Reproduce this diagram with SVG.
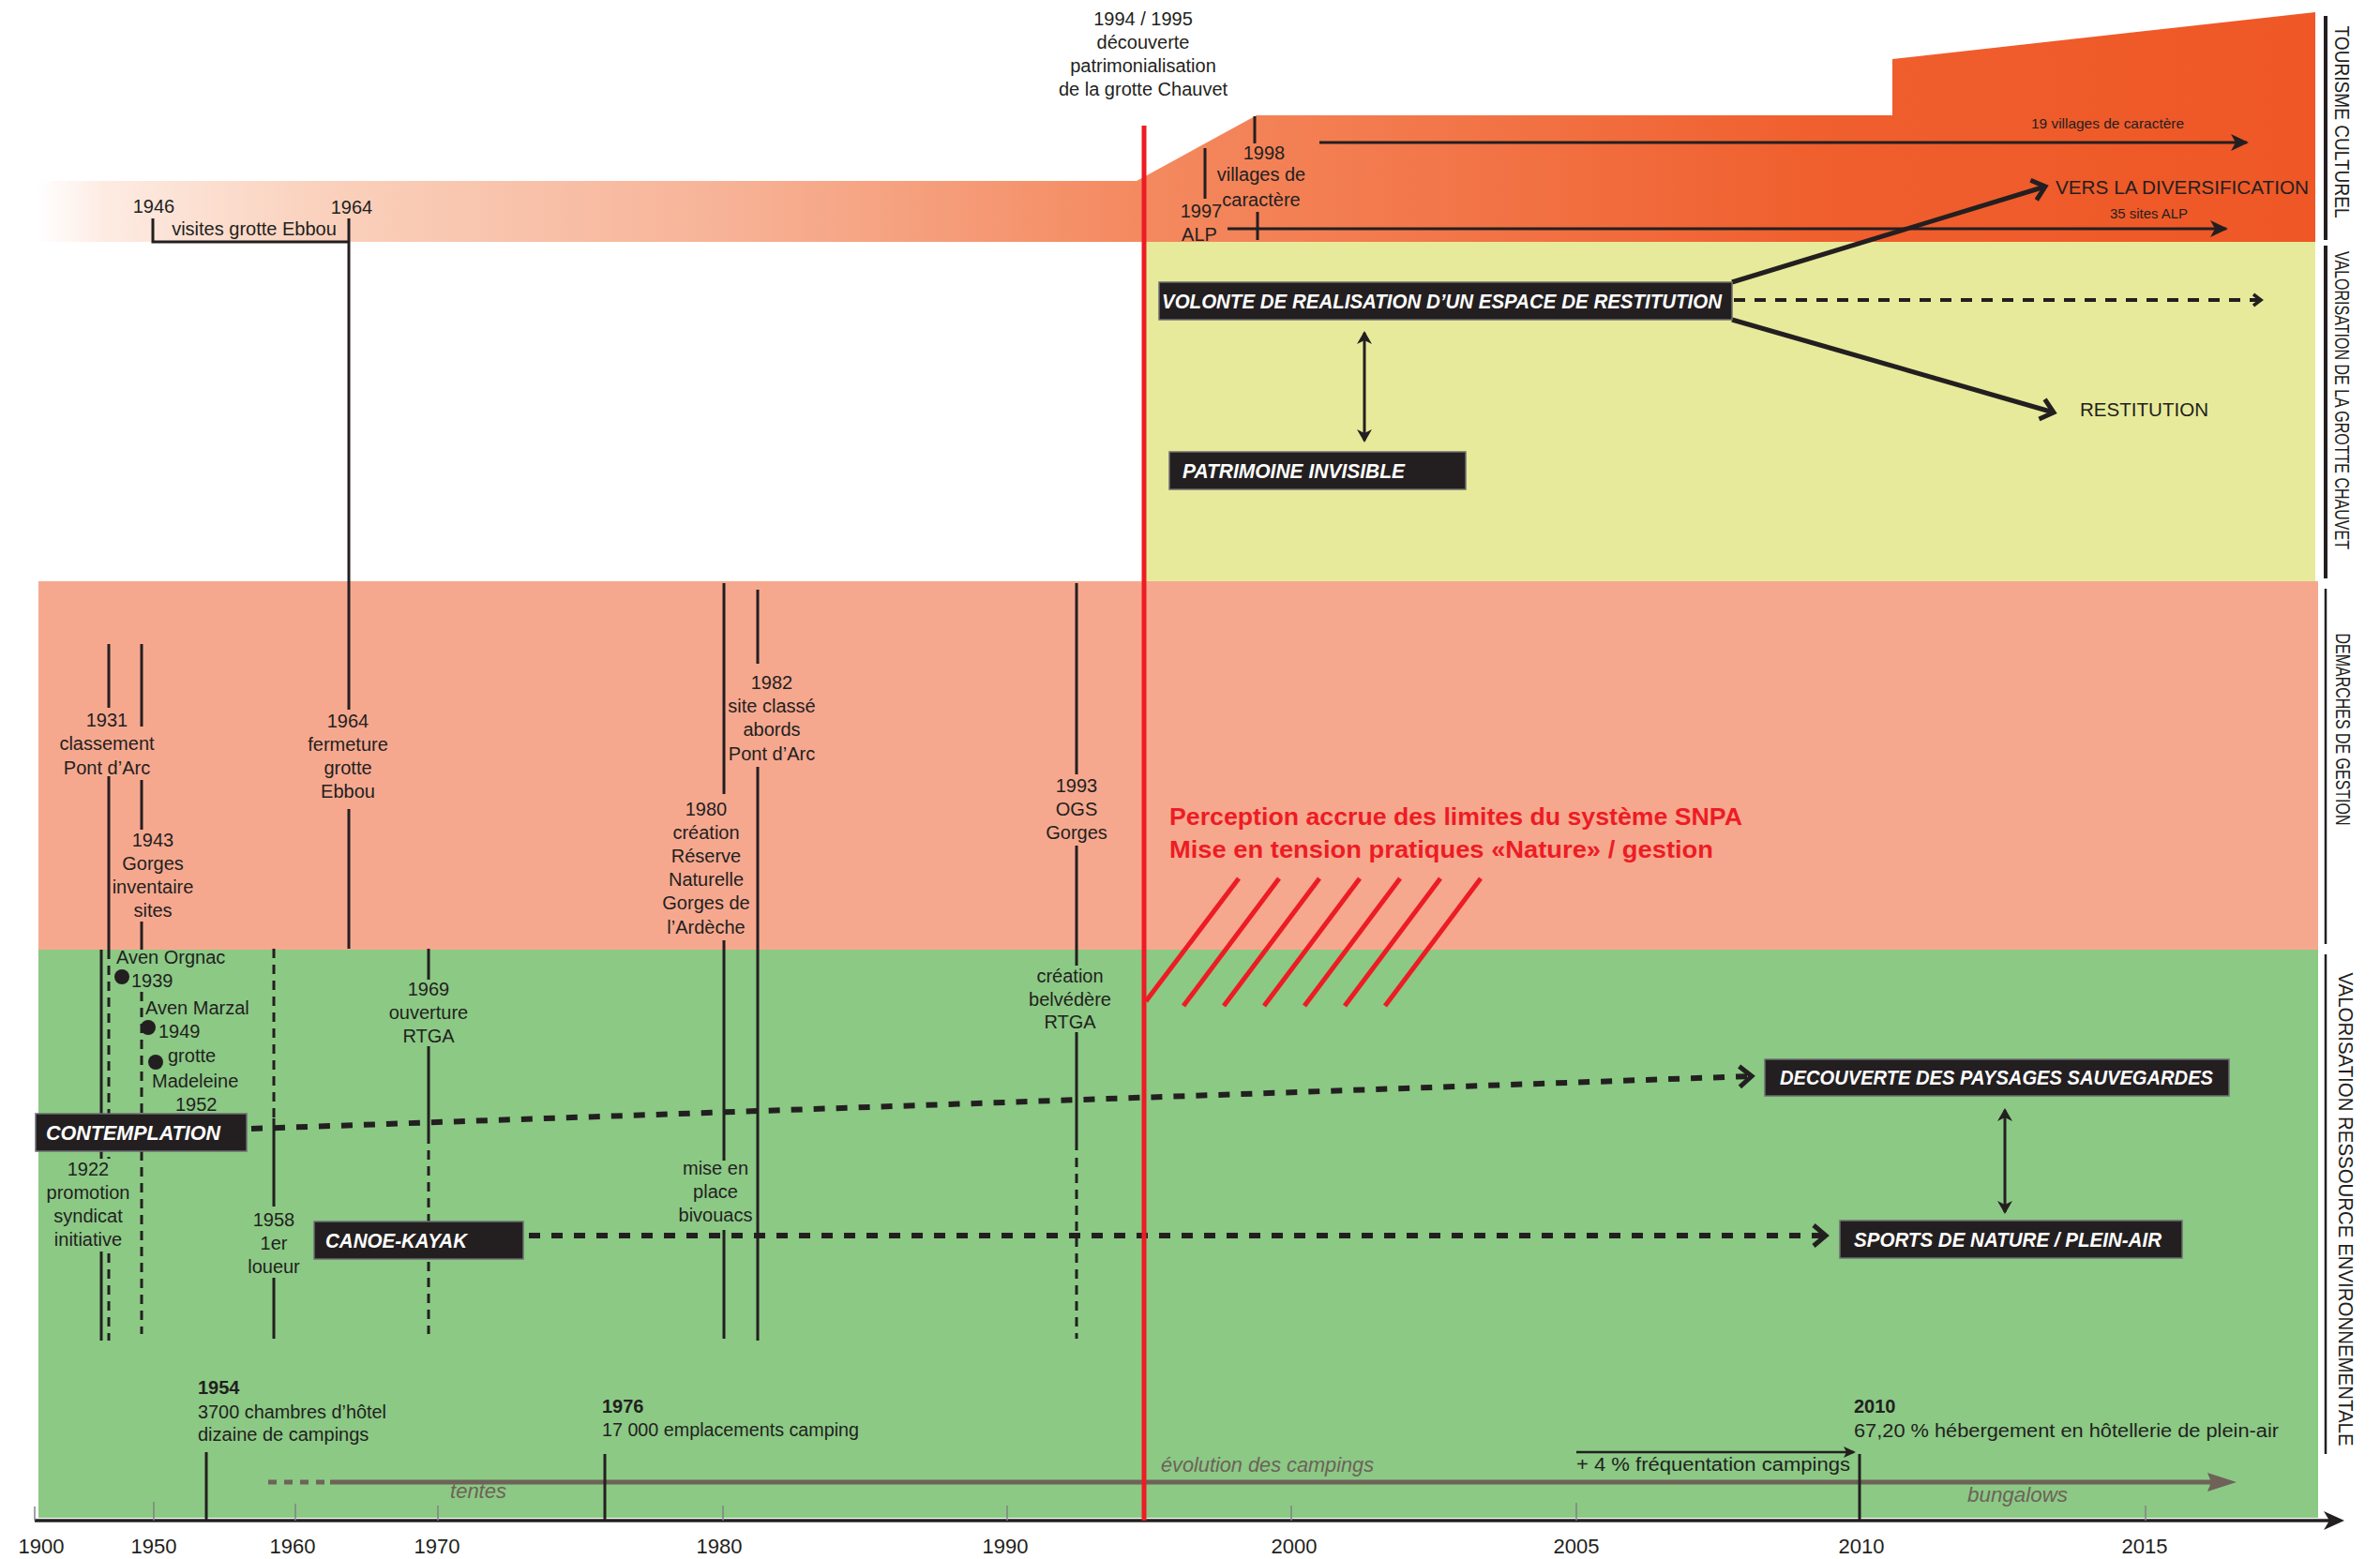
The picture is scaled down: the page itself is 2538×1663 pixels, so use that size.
<svg xmlns="http://www.w3.org/2000/svg" width="2538" height="1663" viewBox="0 0 2538 1663">
<defs>
<linearGradient id="gOrange" gradientUnits="userSpaceOnUse" x1="40" y1="0" x2="2470" y2="0">
<stop offset="0" stop-color="#FFFFFF"/>
<stop offset="0.03" stop-color="#FDEBE2"/>
<stop offset="0.12" stop-color="#FAD2BE"/>
<stop offset="0.3" stop-color="#F7B397"/>
<stop offset="0.48" stop-color="#F48A60"/>
<stop offset="0.78" stop-color="#F05F2E"/>
<stop offset="1" stop-color="#EF5726"/>
</linearGradient>
<marker id="chev" markerUnits="userSpaceOnUse" viewBox="-24 -16 30 32" markerWidth="30" markerHeight="32" refX="0" refY="0" orient="auto" overflow="visible">
<path d="M-13,-11 L0,0 L-13,11" fill="none" stroke="#231F20" stroke-width="5"/>
</marker>
<marker id="chevS" markerUnits="userSpaceOnUse" viewBox="-16 -10 20 20" markerWidth="20" markerHeight="20" refX="0" refY="0" orient="auto" overflow="visible">
<path d="M-8,-6 L0,0 L-8,6" fill="none" stroke="#231F20" stroke-width="3.5"/>
</marker>
<marker id="arr" markerUnits="userSpaceOnUse" viewBox="-20 -10 24 20" markerWidth="24" markerHeight="20" refX="0" refY="0" orient="auto" overflow="visible">
<path d="M2,0 L-17,-9 L-12,0 L-17,9 Z" fill="#231F20"/>
</marker>
<marker id="arrS" markerUnits="userSpaceOnUse" viewBox="-14 -8 16 16" markerWidth="16" markerHeight="16" refX="0" refY="0" orient="auto" overflow="visible">
<path d="M2,0 L-11,-6 L-8,0 L-11,6 Z" fill="#231F20"/>
</marker>
<marker id="dbl" markerUnits="userSpaceOnUse" viewBox="-16 -10 20 20" markerWidth="20" markerHeight="20" refX="0" refY="0" orient="auto-start-reverse" overflow="visible">
<path d="M2,0 L-12,-8 L-8,0 L-12,8 Z" fill="#231F20"/>
</marker>
</defs>
<style>
text{font-family:"Liberation Sans",Arial,sans-serif;fill:#231F20;font-size:20px}
.c{text-anchor:middle}
.b{font-weight:bold}
.bx{fill:#231F20;stroke:#6D6E71;stroke-width:1.5}
.bt{fill:#FFFFFF;font-size:22px;font-weight:bold;font-style:italic}
.ln{stroke:#231F20;stroke-width:3;fill:none}
.dl{stroke:#231F20;stroke-width:3;stroke-dasharray:10 7;fill:none}
.tk{stroke:#808285;stroke-width:1.5}
.yr{font-size:22px;text-anchor:middle}
.gi{fill:#6E6259;font-style:italic;font-size:22px}
.rt{fill:#ED1C24;font-weight:bold;font-size:25px}
.side{font-size:22px;text-anchor:middle}
.sm{font-size:14.5px}
.red{stroke:#ED1C24;stroke-width:5;fill:none}
.thick{stroke:#231F20;stroke-width:6;stroke-dasharray:12 12;fill:none}
</style>
<rect x="0" y="0" width="2538" height="1663" fill="#FFFFFF"/>

<g id="bands">
<path d="M40,193 H1212 L1340,123 H2018 V63 L2469,13 V258 H40 Z" fill="url(#gOrange)"/>
<rect x="1222" y="258" width="1247" height="362" fill="#E7EA9A"/>
<rect x="41" y="620" width="2431" height="393" fill="#F6A88F"/>
<rect x="41" y="1013" width="2431" height="606" fill="#8BC985"/>
</g>

<g id="side-labels">
<line x1="2480" y1="17" x2="2480" y2="256" stroke="#231F20" stroke-width="4"/>
<line x1="2480" y1="262" x2="2480" y2="617" stroke="#231F20" stroke-width="4"/>
<line x1="2480" y1="628" x2="2480" y2="1007" stroke="#231F20" stroke-width="2.5"/>
<line x1="2480" y1="1018" x2="2480" y2="1551" stroke="#231F20" stroke-width="2.5"/>
<text class="side" transform="translate(2490,130) rotate(90)" textLength="205" lengthAdjust="spacingAndGlyphs">TOURISME CULTUREL</text>
<text class="side" transform="translate(2490,427) rotate(90)" textLength="318" lengthAdjust="spacingAndGlyphs">VALORISATION DE LA GROTTE CHAUVET</text>
<text class="side" transform="translate(2491,778) rotate(90)" textLength="205" lengthAdjust="spacingAndGlyphs">DEMARCHES DE GESTION</text>
<text class="side" transform="translate(2494,1290) rotate(90)" textLength="505" lengthAdjust="spacingAndGlyphs">VALORISATION RESSOURCE ENVIRONNEMENTALE</text>
</g>

<g id="axis">
<line x1="37" y1="1622" x2="2486" y2="1622" stroke="#231F20" stroke-width="3.5"/>
<path d="M2500,1622 L2478,1612 L2484,1622 L2478,1632 Z" fill="#231F20"/>
<line class="tk" x1="37" y1="1607" x2="37" y2="1622"/>
<line class="tk" x1="164" y1="1602" x2="164" y2="1622"/>
<line class="tk" x1="315" y1="1604" x2="315" y2="1622"/>
<line class="tk" x1="467" y1="1606" x2="467" y2="1622"/>
<line class="tk" x1="771" y1="1606" x2="771" y2="1622"/>
<line class="tk" x1="1074" y1="1606" x2="1074" y2="1622"/>
<line class="tk" x1="1377" y1="1606" x2="1377" y2="1622"/>
<line class="tk" x1="1681" y1="1603" x2="1681" y2="1622"/>
<line class="tk" x1="2288" y1="1606" x2="2288" y2="1622"/>
<text class="yr" x="44" y="1657">1900</text>
<text class="yr" x="164" y="1657">1950</text>
<text class="yr" x="312" y="1657">1960</text>
<text class="yr" x="466" y="1657">1970</text>
<text class="yr" x="767" y="1657">1980</text>
<text class="yr" x="1072" y="1657">1990</text>
<text class="yr" x="1380" y="1657">2000</text>
<text class="yr" x="1681" y="1657">2005</text>
<text class="yr" x="1985" y="1657">2010</text>
<text class="yr" x="2287" y="1657">2015</text>
</g>

<g id="campings">
<line x1="286" y1="1581" x2="352" y2="1581" stroke="#6E6259" stroke-width="5" stroke-dasharray="9 8"/>
<line x1="352" y1="1581" x2="2358" y2="1581" stroke="#6E6259" stroke-width="5"/>
<path d="M2385,1581 L2354,1571 L2358,1581 L2354,1591 Z" fill="#6E6259"/>
<text class="gi" x="510" y="1598" text-anchor="middle">tentes</text>
<text class="gi" x="1238" y="1570" textLength="227" lengthAdjust="spacingAndGlyphs">évolution des campings</text>
<text class="gi" x="2098" y="1602" textLength="107" lengthAdjust="spacingAndGlyphs">bungalows</text>
<line class="ln" x1="220" y1="1549" x2="220" y2="1622"/>
<text class="b" x="211" y="1487">1954</text>
<text x="211" y="1513" textLength="201" lengthAdjust="spacingAndGlyphs">3700 chambres d’hôtel</text>
<text x="211" y="1537">dizaine de campings</text>
<line class="ln" x1="645" y1="1551" x2="645" y2="1622"/>
<text class="b" x="642" y="1507">1976</text>
<text x="642" y="1532" textLength="274" lengthAdjust="spacingAndGlyphs">17 000 emplacements camping</text>
<line class="ln" x1="1983" y1="1551" x2="1983" y2="1622"/>
<text class="b" x="1977" y="1507">2010</text>
<text x="1977" y="1533" textLength="453" lengthAdjust="spacingAndGlyphs">67,20 % hébergement en hôtellerie de plein-air</text>
<line x1="1681" y1="1549" x2="1977" y2="1549" stroke="#231F20" stroke-width="2.5" marker-end="url(#arrS)"/>
<text x="1681" y="1569" textLength="292" lengthAdjust="spacingAndGlyphs">+ 4 % fréquentation campings</text>
</g>

<g id="ev-ebbou">
<path class="ln" d="M163,233 V258 H372 M372,233 V757 M372,863 V1012"/>
<text class="c" x="164" y="227">1946</text>
<text class="c" x="375" y="228">1964</text>
<text class="c" x="271" y="251">visites grotte Ebbou</text>
<text class="c" x="371" y="776">1964</text>
<text class="c" x="371" y="801">fermeture</text>
<text class="c" x="371" y="826">grotte</text>
<text class="c" x="371" y="851">Ebbou</text>
</g>

<g id="ev-1931">
<path class="ln" d="M116,687 V755 M116,828 V1013"/>
<text class="c" x="114" y="775">1931</text>
<text class="c" x="114" y="800">classement</text>
<text class="c" x="114" y="826">Pont d’Arc</text>
</g>

<g id="ev-1943">
<path class="ln" d="M151,687 V775 M151,832 V885 M151,983 V1013"/>
<path class="dl" d="M151,1058 V1423"/>
<text class="c" x="163" y="903">1943</text>
<text class="c" x="163" y="928">Gorges</text>
<text class="c" x="163" y="953">inventaire</text>
<text class="c" x="163" y="978">sites</text>
</g>

<g id="ev-1922">
<path class="ln" d="M108,1013 V1236 M108,1335 V1430"/>
<path class="dl" d="M116,1013 V1236 M116,1337 V1430"/>
<text class="c" x="94" y="1254">1922</text>
<text class="c" x="94" y="1279">promotion</text>
<text class="c" x="94" y="1304">syndicat</text>
<text class="c" x="94" y="1329">initiative</text>
</g>

<g id="ev-avens">
<circle cx="130" cy="1042" r="8" fill="#231F20"/>
<circle cx="158" cy="1096" r="8" fill="#231F20"/>
<circle cx="166" cy="1133" r="8" fill="#231F20"/>
<text x="124" y="1028">Aven Orgnac</text>
<text x="140" y="1053">1939</text>
<text x="155" y="1082">Aven Marzal</text>
<text x="169" y="1107">1949</text>
<text x="179" y="1133">grotte</text>
<text x="162" y="1160">Madeleine</text>
<text x="187" y="1185">1952</text>
</g>

<g id="ev-1958">
<path class="dl" d="M292,1012 V1193"/>
<path class="ln" d="M292,1193 V1287 M292,1363 V1428"/>
<text class="c" x="292" y="1308">1958</text>
<text class="c" x="292" y="1333">1er</text>
<text class="c" x="292" y="1358">loueur</text>
</g>

<g id="ev-1969">
<path class="ln" d="M457,1012 V1045 M457,1116 V1220"/>
<path class="dl" d="M457,1227 V1423"/>
<text class="c" x="457" y="1062">1969</text>
<text class="c" x="457" y="1087">ouverture</text>
<text class="c" x="457" y="1112">RTGA</text>
</g>

<g id="ev-1980">
<path class="ln" d="M772,622 V847 M772,1003 V1238 M772,1312 V1428"/>
<text class="c" x="753" y="870">1980</text>
<text class="c" x="753" y="895">création</text>
<text class="c" x="753" y="920">Réserve</text>
<text class="c" x="753" y="945">Naturelle</text>
<text class="c" x="753" y="970">Gorges de</text>
<text class="c" x="753" y="996">l’Ardèche</text>
<text class="c" x="763" y="1253">mise en</text>
<text class="c" x="763" y="1278">place</text>
<text class="c" x="763" y="1303">bivouacs</text>
</g>

<g id="ev-1982">
<path class="ln" d="M808,629 V708 M808,818 V1430"/>
<text class="c" x="823" y="735">1982</text>
<text class="c" x="823" y="760">site classé</text>
<text class="c" x="823" y="785">abords</text>
<text class="c" x="823" y="811">Pont d’Arc</text>
</g>

<g id="ev-1993">
<path class="ln" d="M1148,622 V826 M1148,902 V1030 M1148,1101 V1227"/>
<path class="dl" d="M1148,1235 V1428"/>
<text class="c" x="1148" y="845">1993</text>
<text class="c" x="1148" y="870">OGS</text>
<text class="c" x="1148" y="895">Gorges</text>
<text class="c" x="1141" y="1048">création</text>
<text class="c" x="1141" y="1073">belvédère</text>
<text class="c" x="1141" y="1097">RTGA</text>
</g>

<g id="ev-1997-1998">
<path class="ln" d="M1338,124 V153 M1341,226 V256 M1285,158 V212"/>
<text class="c" x="1348" y="170">1998</text>
<text class="c" x="1345" y="193">villages de</text>
<text class="c" x="1345" y="220">caractère</text>
<text class="c" x="1281" y="232">1997</text>
<text class="c" x="1279" y="257">ALP</text>
<text class="sm" x="2166" y="137" textLength="163" lengthAdjust="spacingAndGlyphs">19 villages de caractère</text>
<text class="sm" x="2250" y="233" textLength="83" lengthAdjust="spacingAndGlyphs">35 sites ALP</text>
</g>

<g id="connectors">
<line x1="1407" y1="152" x2="2396" y2="152" stroke="#231F20" stroke-width="3" marker-end="url(#arr)"/>
<line x1="1309" y1="244" x2="2374" y2="244" stroke="#231F20" stroke-width="3" marker-end="url(#arr)"/>
<line x1="1847" y1="301" x2="2181" y2="199" stroke="#231F20" stroke-width="5" marker-end="url(#chev)"/>
<line x1="1847" y1="341" x2="2190" y2="440" stroke="#231F20" stroke-width="5" marker-end="url(#chev)"/>
<line x1="1849" y1="320" x2="2411" y2="320" stroke="#231F20" stroke-width="4" stroke-dasharray="12 10" marker-end="url(#chevS)"/>
<line x1="1455" y1="355" x2="1455" y2="470" stroke="#231F20" stroke-width="3" marker-start="url(#dbl)" marker-end="url(#dbl)"/>
<line x1="268" y1="1204" x2="1868" y2="1148" class="thick" marker-end="url(#chev)"/>
<line x1="564" y1="1318" x2="1947" y2="1318" class="thick" marker-end="url(#chev)"/>
<line x1="2138" y1="1184" x2="2138" y2="1293" stroke="#231F20" stroke-width="3" marker-start="url(#dbl)" marker-end="url(#dbl)"/>
</g>

<g id="n-contemplation">
<rect class="bx" x="38" y="1188" width="225" height="40"/>
<text class="bt" x="49" y="1216" textLength="186" lengthAdjust="spacingAndGlyphs">CONTEMPLATION</text>
</g>
<g id="n-canoe">
<rect class="bx" x="335" y="1303" width="223" height="40"/>
<text class="bt" x="347" y="1331" textLength="151" lengthAdjust="spacingAndGlyphs">CANOE-KAYAK</text>
</g>
<g id="n-decouverte">
<rect class="bx" x="1882" y="1130" width="495" height="39"/>
<text class="bt" x="1898" y="1157" textLength="462" lengthAdjust="spacingAndGlyphs">DECOUVERTE DES PAYSAGES SAUVEGARDES</text>
</g>
<g id="n-sports">
<rect class="bx" x="1962" y="1302" width="365" height="40"/>
<text class="bt" x="1977" y="1330" textLength="328" lengthAdjust="spacingAndGlyphs">SPORTS DE NATURE / PLEIN-AIR</text>
</g>
<g id="n-volonte">
<rect class="bx" x="1236" y="301" width="611" height="40"/>
<text class="bt" x="1239" y="329" textLength="597" lengthAdjust="spacingAndGlyphs">VOLONTE DE REALISATION D’UN ESPACE DE RESTITUTION</text>
</g>
<g id="n-patrimoine">
<rect class="bx" x="1247" y="482" width="316" height="40"/>
<text class="bt" x="1261" y="510" textLength="237" lengthAdjust="spacingAndGlyphs">PATRIMOINE INVISIBLE</text>
</g>
<g id="n-diversification">
<text x="2192" y="207" font-size="22" textLength="270" lengthAdjust="spacingAndGlyphs">VERS LA DIVERSIFICATION</text>
</g>
<g id="n-restitution">
<text x="2218" y="444" font-size="22" textLength="137" lengthAdjust="spacingAndGlyphs">RESTITUTION</text>
</g>

<g id="chauvet">
<line x1="1220" y1="134" x2="1220" y2="1622" stroke="#ED1C24" stroke-width="5"/>
<text class="c" x="1219" y="27">1994 / 1995</text>
<text class="c" x="1219" y="52">découverte</text>
<text class="c" x="1219" y="77">patrimonialisation</text>
<text class="c" x="1219" y="102">de la grotte Chauvet</text>
</g>

<g id="tension">
<text class="rt" x="1247" y="880" textLength="611" lengthAdjust="spacingAndGlyphs">Perception accrue des limites du système SNPA</text>
<text class="rt" x="1247" y="915" textLength="580" lengthAdjust="spacingAndGlyphs">Mise en tension pratiques «Nature» / gestion</text>
<path class="red" d="M1321,937 L1222,1068 M1364,937 L1262,1073 M1407,937 L1305,1073 M1450,937 L1348,1073 M1493,937 L1391,1073 M1536,937 L1434,1073 M1579,937 L1477,1073"/>
</g>
</svg>
